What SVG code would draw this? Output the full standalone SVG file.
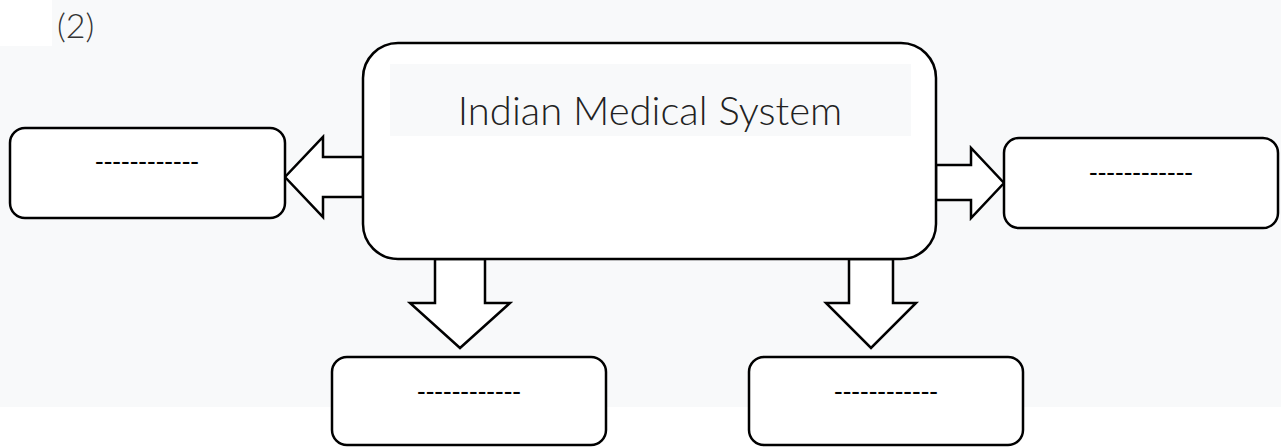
<svg xmlns="http://www.w3.org/2000/svg" width="1281" height="447" viewBox="0 0 1281 447">
<style>
.box{fill:#fff;stroke:#000;stroke-width:2.5}
.arr{fill:#fff;stroke:#000;stroke-width:2.5;stroke-linejoin:miter}
.dash{font-family:"Liberation Sans",Arial,sans-serif;font-size:26px;fill:#000;text-anchor:middle}
.title{font-family:Lato,"Open Sans",sans-serif;font-weight:300;font-size:40px;fill:#222;text-anchor:middle}
</style>
<rect x="0" y="0" width="1281" height="407" fill="#f8f9fa"/>
<rect x="0" y="407" width="1281" height="40" fill="#fff"/>
<rect x="0" y="0" width="52" height="46" fill="#fff"/>
<text x="57" y="38" style="font-family:Lato,'Open Sans',sans-serif;font-weight:300;font-size:34px;fill:#333">(2)</text>
<g id="connectors">
<polygon class="arr" points="363,157 323,157 323,137 285,177 323,217 323,197 363,197"/>
<polygon class="arr" points="936,165 971,165 971,148 1004,183 971,218 971,200 936,200"/>
<polygon class="arr" points="435,259 435,303 410,303 460,348 510,303 485,303 485,259"/>
<polygon class="arr" points="849,259 849,303 826,303 871,348 916,303 893,303 893,259"/>
</g>
<g id="main">
<rect class="box" x="363" y="43" width="573" height="216" rx="35"/>
<rect x="390" y="64" width="521" height="72" fill="#f8f9fa"/>
<text class="title" x="650" y="125">Indian Medical System</text>
</g>
<g id="left">
<rect class="box" x="10" y="128" width="275" height="90" rx="15"/>
<text class="dash" x="147" y="170">------------</text>
</g>
<g id="right">
<rect class="box" x="1004" y="138" width="274" height="90" rx="15"/>
<text class="dash" x="1141" y="181">------------</text>
</g>
<g id="bottomLeft">
<rect class="box" x="332" y="357" width="274" height="88" rx="15"/>
<text class="dash" x="469" y="400">------------</text>
</g>
<g id="bottomRight">
<rect class="box" x="749" y="357" width="274" height="88" rx="15"/>
<text class="dash" x="886" y="400">------------</text>
</g>
</svg>
